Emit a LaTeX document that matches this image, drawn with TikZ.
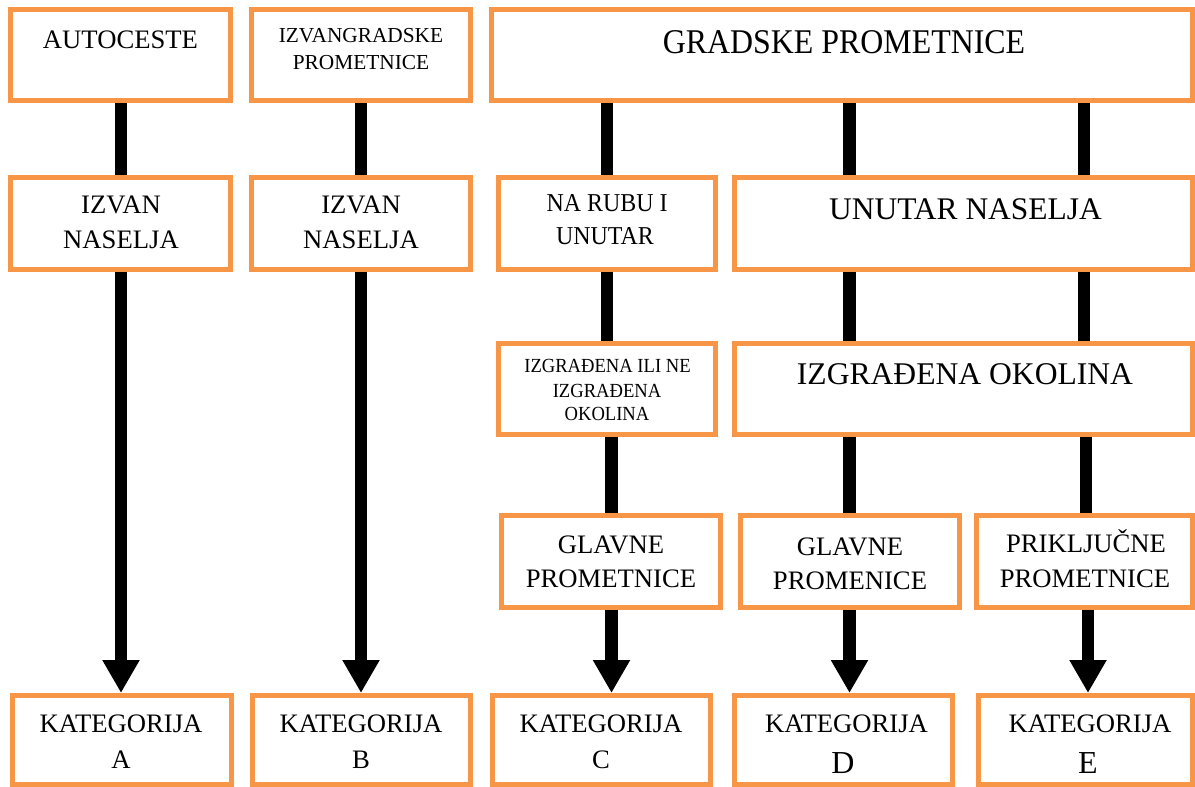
\documentclass[tikz,border=0pt]{standalone}
\usepackage{fontspec}
\setmainfont{Liberation Serif}
\newfontfamily\condA[FakeStretch=0.92]{Liberation Serif}
\newfontfamily\condB[FakeStretch=0.93]{Liberation Serif}
\usetikzlibrary{arrows.meta}
\definecolor{boxorange}{HTML}{F79646}
\newcommand\fsz[1]{\fontsize{#1}{#1}\selectfont}
\begin{document}
\begin{tikzpicture}[x=0.75pt,y=-0.75pt,
  box/.style={draw=boxorange,line width=3.75pt,fill=white,rectangle,inner sep=0pt},
  conn/.style={line width=9.4pt},
  arr/.style={line width=9.4pt,-{Triangle[width=26.25pt,length=24.75pt]}},
  lbl/.style={anchor=base,inner sep=0pt,text=black}]
\useasboundingbox (0,0) rectangle (1195,787);
\newcommand\bx[5]{\node[box,minimum width=#4*0.75pt,minimum height=#5*0.75pt] (#1) at (#2,#3) {};}
% row 1
\bx{a1}{120.5}{55.5}{220}{91}
\bx{b1}{361}{55.5}{219}{91}
\bx{g1}{841.75}{55.5}{700.5}{91}
% row 2
\bx{a2}{120.5}{223.5}{220}{92}
\bx{b2}{361}{223.5}{219}{92}
\bx{c2}{607}{223.5}{217}{92}
\bx{u2}{963.25}{223.5}{457.5}{92}
% row 3
\bx{c3}{607}{389}{217}{91}
\bx{u3}{963.25}{389}{457.5}{91}
% row 4
\bx{c4}{611}{561.5}{219}{92}
\bx{d4}{850}{561.5}{219}{92}
\bx{e4}{1084.25}{561.5}{215.5}{92}
% row 5
\bx{a5}{121.5}{740}{219}{89}
\bx{b5}{361.5}{740}{218}{89}
\bx{c5}{601.5}{740}{218}{89}
\bx{d5}{843.5}{740}{218}{89}
\bx{e5}{1085.25}{740}{213.5}{89}

% labels
\node[lbl,font=\fsz{20pt}] (ta1) at (120.5,49) {AUTOCESTE};
\node[lbl,font=\fsz{16pt}] (tb1a) at (361,43) {IZVANGRADSKE};
\node[lbl,font=\fsz{16pt}] (tb1b) at (361,70) {PROMETNICE};
\node[lbl,font=\condA\fsz{26pt}] (tg1) at (844,54) {GRADSKE PROMETNICE};
\node[lbl,font=\fsz{20pt}] (ta2a) at (121,214) {IZVAN};
\node[lbl,font=\fsz{20pt}] (ta2b) at (121,249) {NASELJA};
\node[lbl,font=\fsz{20pt}] (tb2a) at (361,214) {IZVAN};
\node[lbl,font=\fsz{20pt}] (tb2b) at (361,249) {NASELJA};
\node[lbl,font=\condB\fsz{19.3pt}] (tc2a) at (607,212) {NA RUBU I};
\node[lbl,font=\condB\fsz{19.3pt}] (tc2b) at (605,245) {UNUTAR};
\node[lbl,font=\fsz{23.6pt}] (tu2) at (965.5,220) {UNUTAR NASELJA};
\node[lbl,font=\condB\fsz{15pt}] (tc3a) at (607.5,373) {IZGRAĐENA ILI NE};
\node[lbl,font=\condB\fsz{15pt}] (tc3b) at (607,398) {IZGRAĐENA};
\node[lbl,font=\condB\fsz{15pt}] (tc3c) at (607,421) {OKOLINA};
\node[lbl,font=\fsz{23.7pt}] (tu3) at (965,385) {IZGRAĐENA OKOLINA};
\node[lbl,font=\fsz{20pt}] (tc4a) at (611,553) {GLAVNE};
\node[lbl,font=\fsz{20pt}] (tc4b) at (611,587) {PROMETNICE};
\node[lbl,font=\fsz{20pt}] (td4a) at (850,555) {GLAVNE};
\node[lbl,font=\fsz{20pt}] (td4b) at (850,589) {PROMENICE};
\node[lbl,font=\fsz{20pt}] (te4a) at (1086,552) {PRIKLJUČNE};
\node[lbl,font=\fsz{20pt}] (te4b) at (1085,587) {PROMETNICE};
\node[lbl,font=\fsz{20pt}] (ta5a) at (121,732) {KATEGORIJA};
\node[lbl,font=\fsz{20pt}] (ta5b) at (121,768) {A};
\node[lbl,font=\fsz{20pt}] (tb5a) at (361,732) {KATEGORIJA};
\node[lbl,font=\fsz{20pt}] (tb5b) at (361,768) {B};
\node[lbl,font=\fsz{20pt}] (tc5a) at (601,732) {KATEGORIJA};
\node[lbl,font=\fsz{20pt}] (tc5b) at (601,768) {C};
\node[lbl,font=\fsz{20pt}] (td5a) at (846.5,732) {KATEGORIJA};
\node[lbl,font=\fsz{24pt}] (td5b) at (843,773) {D};
\node[lbl,font=\fsz{20pt}] (te5a) at (1090,732) {KATEGORIJA};
\node[lbl,font=\fsz{24pt}] (te5b) at (1088,773) {E};

% column positions
\coordinate (xA) at (121,0);
\coordinate (xB) at (361,0);
\coordinate (xC) at (607,0);
\coordinate (xC2) at (611.5,0);
\coordinate (xD) at (849.5,0);
\coordinate (xE) at (1084,0);
\coordinate (xE2) at (1086,0);
\coordinate (xE3) at (1088,0);

% connectors
\draw[conn] (a1.south -| xA) -- (a2.north -| xA);
\draw[arr] (a2.south -| xA) -- (a5.north -| xA);
\draw[conn] (b1.south -| xB) -- (b2.north -| xB);
\draw[arr] (b2.south -| xB) -- (b5.north -| xB);
\draw[conn] (g1.south -| xC) -- (c2.north -| xC);
\draw[conn] (c2.south -| xC) -- (c3.north -| xC);
\draw[conn] (c3.south -| xC2) -- (c4.north -| xC2);
\draw[arr] (c4.south -| xC2) -- (c5.north -| xC2);
\draw[conn] (g1.south -| xD) -- (u2.north -| xD);
\draw[conn] (u2.south -| xD) -- (u3.north -| xD);
\draw[conn] (u3.south -| xD) -- (d4.north -| xD);
\draw[arr] (d4.south -| xD) -- (d5.north -| xD);
\draw[conn] (g1.south -| xE) -- (u2.north -| xE);
\draw[conn] (u2.south -| xE) -- (u3.north -| xE);
\draw[conn] (u3.south -| xE2) -- (e4.north -| xE2);
\draw[arr] (e4.south -| xE3) -- (e5.north -| xE3);
\end{tikzpicture}
\end{document}
